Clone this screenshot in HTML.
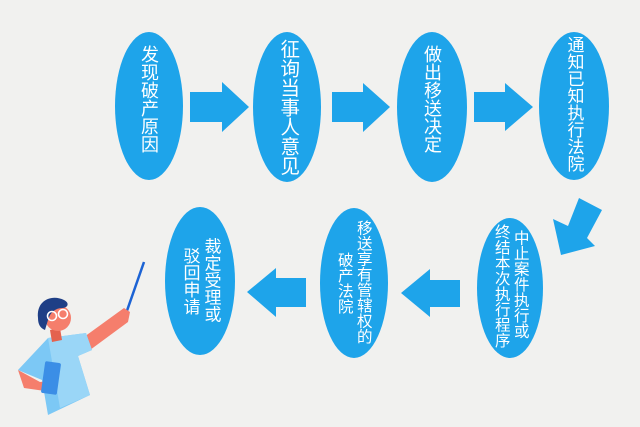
<!DOCTYPE html>
<html><head><meta charset="utf-8"><style>
html,body{margin:0;padding:0}
body{width:640px;height:427px;background:#f1f1ef;position:relative;overflow:hidden;font-family:"Liberation Sans","Noto Sans CJK SC",sans-serif}
.c{position:absolute;writing-mode:vertical-rl;color:#fff;line-height:1;white-space:nowrap;transform:translate(-50%,-50%)}
.t{font-size:19px}
.b{font-size:15.5px}
</style></head><body>
<svg width="640" height="427" style="position:absolute;left:0;top:0">
<g fill="#1ea4ea">
<ellipse cx="149" cy="106" rx="34" ry="74"/>
<ellipse cx="287" cy="107" rx="34" ry="75"/>
<ellipse cx="432" cy="107" rx="35" ry="75"/>
<ellipse cx="574" cy="106" rx="35" ry="74"/>
<ellipse cx="200" cy="281" rx="35" ry="74"/>
<ellipse cx="354" cy="283" rx="34" ry="75"/>
<ellipse cx="510" cy="288" rx="33" ry="70"/>
<polygon points="190,92 222,92 222,82 249,107 222,132 222,122 190,122"/>
<polygon points="332,92 363,92 363,83 390,107 363,132 363,122 332,122"/>
<polygon points="474,92 505,92 505,83 533,107 505,131 505,122 474,122"/>
<polygon points="579,198 602,210 587,238 595,246 561,255 553,219 568,226"/>
<polygon points="306,278 276,278 276,268 247,292 276,317 276,307 306,307"/>
<polygon points="460,280 430,280 430,269 401,293 430,317 430,307 460,307"/>
</g>
<line x1="122" y1="325" x2="144" y2="262" stroke="#1c63d4" stroke-width="2.5"/>
<path d="M84,337 L124,308 L130,312 L128,322 L90,350 Z" fill="#f57e6c"/>
<path d="M18,370 L48,338 L86,333 L92,350 L78,356 L90,395 L48,415 L42,380 Z" fill="#7cc8f5"/>
<path d="M48,338 L86,333 L92,350 L78,356 L90,395 L60,408 Z" fill="#9ad6f7"/>
<path d="M18,370 L40,382 L55,380 L52,392 L24,388 Z" fill="#f57e6c"/>
<rect x="43" y="362" width="16" height="32" rx="2" fill="#3b8ee6" transform="rotate(8 51 378)"/>
<path d="M50,330 L60,328 L62,340 L52,342 Z" fill="#e4624f"/>
<circle cx="58" cy="318" r="13" fill="#f57e6c"/>
<path d="M38,318 C36,300 52,294 64,300 C70,303 68,308 62,308 C56,308 50,312 48,320 L45,330 C40,328 38,324 38,318 Z" fill="#1f3f86"/>
<circle cx="52" cy="316" r="4.5" fill="none" stroke="#fff" stroke-width="1.6"/>
<circle cx="63" cy="314" r="4.5" fill="none" stroke="#fff" stroke-width="1.6"/>
</svg>
<div class="c t" style="left:149px;top:99px;font-size:18px">发现破产原因</div>
<div class="c t" style="left:287px;top:107px;font-size:19.5px">征询当事人意见</div>
<div class="c t" style="left:432px;top:99px;font-size:18px">做出移送决定</div>
<div class="c t" style="left:574px;top:104px;font-size:17px">通知已知执行法院</div>
<div class="c b" style="left:211px;top:280px;font-size:17px">裁定受理或</div>
<div class="c b" style="left:190px;top:281px;font-size:17px">驳回申请</div>
<div class="c b" style="left:363px;top:282px">移送享有管辖权的</div>
<div class="c b" style="left:344px;top:283px">破产法院</div>
<div class="c b" style="left:520px;top:284px">中止案件执行或</div>
<div class="c b" style="left:501px;top:286px">终结本次执行程序</div>
</body></html>
